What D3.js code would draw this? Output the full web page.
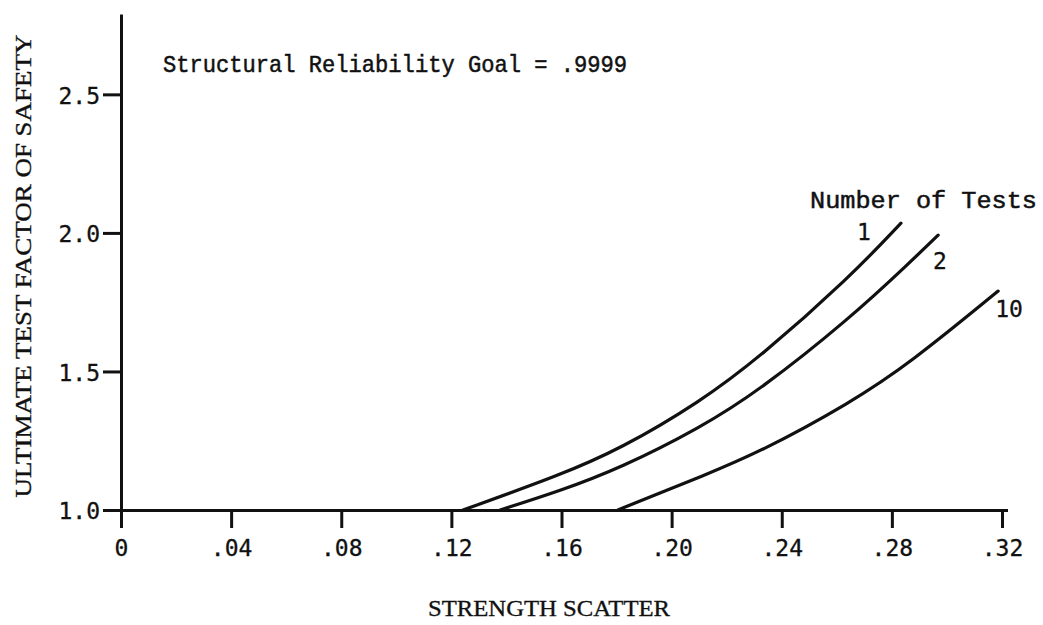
<!DOCTYPE html>
<html>
<head>
<meta charset="utf-8">
<script src="https://cdn.jsdelivr.net/npm/d3@7"></script>
<style>
  html, body { margin: 0; padding: 0; background: #fff; }
  svg { display: block; }
</style>
</head>
<body>
<svg id="chart" width="1043" height="625"></svg>
<script>
// ---- Data ----
const xTicks = [0, 0.04, 0.08, 0.12, 0.16, 0.20, 0.24, 0.28, 0.32];
const xTickLabels = ["0", ".04", ".08", ".12", ".16", ".20", ".24", ".28", ".32"];
const yTicks = [1.0, 1.5, 2.0, 2.5];
const yTickLabels = ["1.0", "1.5", "2.0", "2.5"];

const seriesNames = ["1", "2", "10"];
// strength scatter (x) and ultimate test factor of safety (y)
const tests1X  = [0.1242, 0.1595, 0.1813, 0.2103, 0.2321, 0.2648, 0.2833];
const tests1Y  = [1.000, 1.126, 1.220, 1.390, 1.552, 1.841, 2.035];
const tests2X  = [0.1377, 0.1595, 0.1813, 0.2103, 0.2321, 0.2648, 0.2866, 0.2968];
const tests2Y  = [1.000, 1.069, 1.151, 1.296, 1.433, 1.692, 1.894, 1.992];
const tests10X = [0.1805, 0.1922, 0.2103, 0.2321, 0.2648, 0.2866, 0.3186];
const tests10Y = [1.000, 1.047, 1.119, 1.209, 1.386, 1.530, 1.790];

const titleText = "Structural Reliability Goal = .9999";
const legendTitle = "Number of Tests";
const xAxisTitle = "STRENGTH SCATTER";
const yAxisTitle = "ULTIMATE TEST FACTOR OF SAFETY";

// ---- Layout ----
const svg = d3.select("#chart");
const x = d3.scaleLinear().domain([0, 0.322]).range([121, 1007.5]);
const y = d3.scaleLinear().domain([1.0, 2.79]).range([510, 14]);

const ink = "#111";
const monoTick = "'DejaVu Sans Mono', 'Liberation Mono', monospace";
const monoType = "'Liberation Mono', 'DejaVu Sans Mono', monospace";
const serifType = "'Liberation Serif', 'DejaVu Serif', serif";

// X axis
const xAxis = d3.axisBottom(x)
  .tickValues(xTicks)
  .tickFormat((d, i) => xTickLabels[i])
  .tickSizeInner(18).tickSizeOuter(0).tickPadding(12);
const gx = svg.append("g").attr("transform", `translate(0,${y(1.0)})`).call(xAxis);
gx.select(".domain").attr("stroke", ink).attr("stroke-width", 3);
gx.selectAll(".tick line").attr("stroke", ink).attr("stroke-width", 3);
gx.selectAll(".tick text")
  .attr("fill", ink).attr("font-family", monoTick).attr("font-size", 23)
  .attr("stroke", ink).attr("stroke-width", 0.3);

// Y axis
const yAxis = d3.axisLeft(y)
  .tickValues(yTicks)
  .tickFormat((d, i) => yTickLabels[i])
  .tickSizeInner(18).tickSizeOuter(0).tickPadding(3);
const gy = svg.append("g").attr("transform", `translate(${x(0)},0)`).call(yAxis);
gy.select(".domain").attr("stroke", ink).attr("stroke-width", 3);
gy.selectAll(".tick line").attr("stroke", ink).attr("stroke-width", 3);
gy.selectAll(".tick text")
  .attr("fill", ink).attr("font-family", monoTick).attr("font-size", 23)
  .attr("stroke", ink).attr("stroke-width", 0.3)
  .attr("dy", "0.38em");

// Curves
const series = [
  { name: seriesNames[0], xs: tests1X, ys: tests1Y },
  { name: seriesNames[1], xs: tests2X, ys: tests2Y },
  { name: seriesNames[2], xs: tests10X, ys: tests10Y }
];
const line = d3.line()
  .x(d => x(d[0])).y(d => y(d[1]))
  .curve(d3.curveBasis);
svg.append("g").selectAll("path")
  .data(series)
  .join("path")
  .attr("d", s => line(s.xs.map((v, i) => [v, s.ys[i]])))
  .attr("fill", "none")
  .attr("stroke", ink)
  .attr("stroke-width", 3.2)
  .attr("stroke-linecap", "round");

// Curve labels near curve ends
const labelOffsets = [[-44, 17], [-5, 34], [-3, 26]];
svg.append("g").selectAll("text")
  .data(series)
  .join("text")
  .attr("x", (s, i) => x(s.xs[s.xs.length - 1]) + labelOffsets[i][0])
  .attr("y", (s, i) => y(s.ys[s.ys.length - 1]) + labelOffsets[i][1])
  .attr("font-family", monoTick).attr("font-size", 23).attr("fill", ink)
  .attr("stroke", ink).attr("stroke-width", 0.3)
  .text(s => s.name);

// Legend title
svg.append("text")
  .attr("x", 810).attr("y", 208)
  .attr("font-family", monoType).attr("font-size", 24).attr("fill", ink)
  .attr("stroke", ink).attr("stroke-width", 0.5)
  .attr("textLength", 227).attr("lengthAdjust", "spacingAndGlyphs")
  .text(legendTitle);

// Chart annotation
svg.append("text")
  .attr("x", 163).attr("y", 72)
  .attr("font-family", monoType).attr("font-size", 24).attr("fill", ink)
  .attr("stroke", ink).attr("stroke-width", 0.5)
  .attr("textLength", 464).attr("lengthAdjust", "spacingAndGlyphs")
  .text(titleText);

// Axis titles
svg.append("text")
  .attr("x", 549).attr("y", 616)
  .attr("text-anchor", "middle")
  .attr("font-family", serifType).attr("font-size", 24).attr("fill", ink)
  .attr("stroke", ink).attr("stroke-width", 0.35)
  .attr("textLength", 242).attr("lengthAdjust", "spacingAndGlyphs")
  .text(xAxisTitle);

svg.append("text")
  .attr("transform", "translate(31,266) rotate(-90)")
  .attr("text-anchor", "middle")
  .attr("font-family", serifType).attr("font-size", 24).attr("fill", ink)
  .attr("stroke", ink).attr("stroke-width", 0.35)
  .attr("textLength", 463).attr("lengthAdjust", "spacingAndGlyphs")
  .text(yAxisTitle);
</script>
</body>
</html>
